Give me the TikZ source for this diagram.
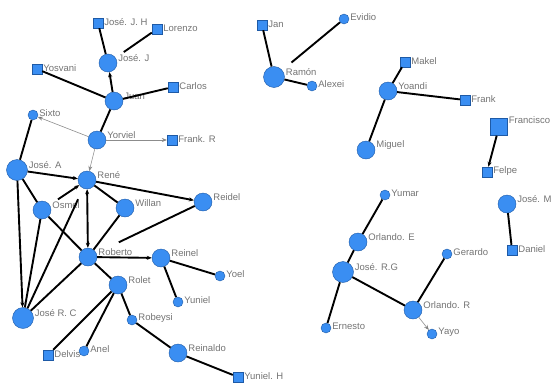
\documentclass[tikz,border=0pt]{standalone}
\usepackage{fontspec}
\setmainfont{Liberation Sans}
\usetikzlibrary{arrows.meta}
\definecolor{nodeblue}{HTML}{3A8EF2}
\definecolor{nodeline}{HTML}{1E5AA6}
\definecolor{lblgray}{HTML}{737373}
\definecolor{weakgray}{HTML}{8C8C8C}

\begin{document}
\begin{tikzpicture}[
    x=1pt, y=-1pt,
    lbl/.style={text=lblgray, font=\fontsize{9.5}{10}\selectfont, inner sep=1pt},
    big/.style={draw=nodeline, fill=nodeblue, circle, thin, 
    minimum size=18pt, inner sep=0pt, label={[lbl, yshift=5pt]right:#1}},
    bigger/.style={big=#1, minimum size=21pt},
    small/.style={draw=nodeline, fill=nodeblue, circle, thin, 
    minimum size=10pt, inner sep=0pt, label={[lbl, yshift=2pt]right:#1}},
    box/.style={draw=nodeline, fill=nodeblue, rectangle, thin, 
    minimum size=10pt, inner sep=0pt, label={[lbl, yshift=1pt]right:#1}},
    bigbox/.style={draw=nodeline, fill=nodeblue, rectangle, thin, 
    minimum size=17pt, inner sep=0pt, label={[lbl, yshift=7pt]right:#1}},
    strong/.style={line width=1.9pt},
    weak/.style={draw=weakgray, line width=0.6pt},
    >={Stealth[length=5pt, width=4pt]}
    ]
    \useasboundingbox (0,0) rectangle (551,383);

    % left group
    \node[box=José. J. H]  (jjh)      at (98,23)   {};
    \node[box=Lorenzo]     (lorenzo)  at (157,29)  {};
    \node[big=José. J]     (jj)       at (108,63)  {};
    \node[box=Yosvani]     (yosvani)  at (37,69)   {};
    \node[box=Carlos]      (carlos)   at (173,87)  {};
    \node[big=Juan]        (juan)     at (114,101) {};
    \node[small=Sixto]     (sixto)    at (33,115)  {};
    \node[big=Yorviel]     (yorviel)  at (97,140)  {};
    \node[box=Frank. R]    (frankr)   at (172,140) {};
    \node[bigger=José. A]  (josea)    at (17,170)  {};
    \node[big=René]        (rene)     at (87,180)  {};
    \node[big=Osmel]       (osmel)    at (42,210)  {};
    \node[big=Willan]      (willan)   at (125,208) {};
    \node[big=Reidel]      (reidel)   at (203,202) {};
    \node[big=Roberto]     (roberto)  at (88,257)  {};
    \node[big=Reinel]      (reinel)   at (161,258) {};
    \node[small=Yoel]      (yoel)     at (220,276) {};
    \node[big=Rolet]       (rolet)    at (118,285) {};
    \node[small=Yuniel]    (yuniel)   at (178,302) {};
    \node[bigger=José R. C] (joserc)  at (23,318)  {};
    \node[small=Robeysi]   (robeysi)  at (132,320) {};
    \node[box=Delvis]      (delvis)   at (48,355)  {};
    \node[small=Anel]      (anel)     at (84,351)  {};
    \node[big=Reinaldo]    (reinaldo) at (178,353) {};
    \node[box=Yuniel. H]   (yunielh)  at (238,377) {};

    % right groups
    \node[box=Jan]         (jan)      at (262,25)  {};
    \node[small=Evidio]    (evidio)   at (344,19)  {};
    \node[bigger=Ramón]    (ramon)    at (274,77)  {};
    \node[small=Alexei]    (alexei)   at (312,86)  {};
    \node[box=Makel]       (makel)    at (405,62)  {};
    \node[big=Yoandi]      (yoandi)   at (388,91)  {};
    \node[box=Frank]       (frank)    at (465,100) {};
    \node[big=Miguel]      (miguel)   at (366,150) {};
    \node[bigbox=Francisco] (francisco) at (499,127) {};
    \node[box=Felpe]       (felpe)    at (487,172) {};
    \node[small=Yumar]     (yumar)    at (385,195) {};
    \node[big=José. M]     (josem)    at (507,204) {};
    \node[big=Orlando. E]  (orlandoe) at (358,242) {};
    \node[box=Daniel]      (daniel)   at (512,250) {};
    \node[small=Gerardo]   (gerardo)  at (447,254) {};
    \node[bigger=José. R.G] (joserg)  at (343,272) {};
    \node[big=Orlando. R]  (orlandor) at (413,310) {};
    \node[small=Ernesto]   (ernesto)  at (326,328) {};
    \node[small=Yayo]      (yayo)     at (432,334) {};

    \path[strong]
      (jj)       edge                      (jjh)
      (lorenzo)  edge[shorten >=10pt]      (jj)
      (juan)     edge[->]                  (jj)
      (yosvani)  edge                      (juan)
      (carlos)   edge                      (juan)
      (juan)     edge                      (yorviel)
      (sixto)    edge                      (josea)
      (josea)    edge[->]                  (rene)
      (josea)    edge                      (osmel)
      (josea)    edge[->]                  (joserc)
      (osmel)    edge                      (joserc)
      (osmel)    edge                      (roberto)
      (osmel)    edge[->, shorten <=10pt]  (rene)
      (joserc)   edge[shorten >=12pt]      (rene)
      (joserc)   edge                      (roberto)
      (rene)     edge[<->]                 (roberto)
      (rene)     edge                      (willan)
      (rene)     edge[->]                  (reidel)
      (willan)   edge                      (roberto)
      (reidel)   edge[shorten >=25pt]      (roberto)
      (roberto)  edge[->]                  (reinel)
      (roberto)  edge                      (rolet)
      (reinel)   edge                      (yoel)
      (reinel)   edge                      (yuniel)
      (rolet)    edge                      (delvis)
      (rolet)    edge                      (anel)
      (rolet)    edge                      (robeysi)
      (robeysi)  edge                      (reinaldo)
      (reinaldo) edge                      (yunielh)
      (jan)      edge                      (ramon)
      (ramon)    edge                      (alexei)
      (evidio)   edge[shorten >=12pt]      (ramon)
      (makel)    edge                      (yoandi)
      (yoandi)   edge                      (frank)
      (yoandi)   edge                      (miguel)
      (francisco) edge[->]                 (felpe)
      (yumar)    edge                      (orlandoe)
      (orlandoe) edge                      (joserg)
      (joserg)   edge                      (ernesto)
      (joserg)   edge                      (orlandor)
      (orlandor) edge                      (gerardo)
      (josem)    edge                      (daniel)
    ;
    \path[weak, ->]
      (yorviel)  edge  (sixto)
      (yorviel)  edge  (frankr)
      (yorviel)  edge  (rene)
      (orlandor) edge  (yayo)
    ;
\end{tikzpicture}
\end{document}
